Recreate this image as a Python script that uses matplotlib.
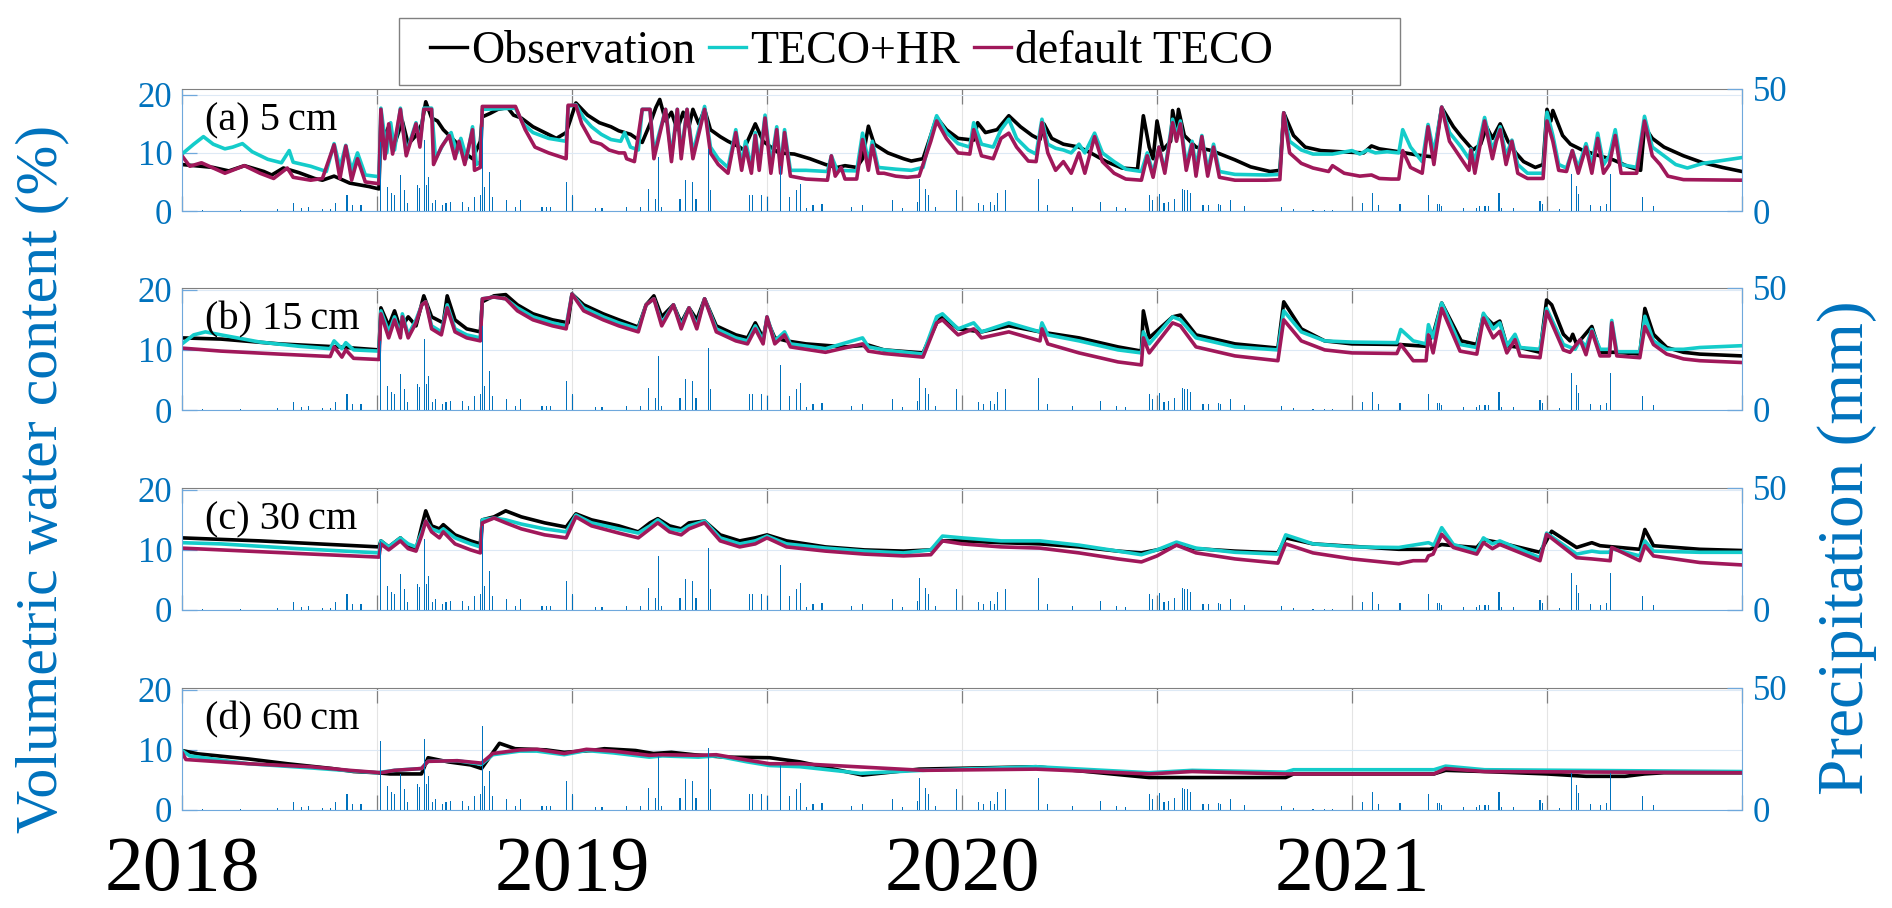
import matplotlib
matplotlib.use('Agg')
import matplotlib.pyplot as plt
import numpy as np
from matplotlib.lines import Line2D
from matplotlib.patches import Rectangle

plt.rcParams['font.family'] = ['Liberation Serif', 'DejaVu Serif']

BLUE = '#0072BD'
C_OBS = 'black'
C_HR = '#14CCCA'
C_DEF = '#A0185A'

# ---- soil water content (decimal year, %) ----
# (a) 5 cm
a_obs = [(2018.00, 8.0), (2018.08, 7.5), (2018.12, 6.9), (2018.16, 7.8), (2018.21, 6.8), (2018.23, 6.2),
         (2018.26, 7.4), (2018.30, 6.6), (2018.34, 5.6), (2018.36, 5.3), (2018.39, 6.0), (2018.43, 4.8),
         (2018.48, 4.2), (2018.505, 3.8), (2018.51, 15.5), (2018.52, 13.0), (2018.53, 14.5), (2018.545, 11.5),
         (2018.565, 15.5), (2018.58, 11.5), (2018.60, 13.0), (2018.615, 15.0), (2018.625, 18.8), (2018.64, 16.0),
         (2018.655, 15.5), (2018.67, 14.0), (2018.70, 12.0), (2018.725, 10.0), (2018.745, 9.0), (2018.765, 12.0),
         (2018.77, 16.2), (2018.79, 16.8), (2018.81, 17.5), (2018.835, 17.8), (2018.85, 16.5), (2018.87, 16.0),
         (2018.90, 14.5), (2018.93, 13.5), (2018.96, 12.5), (2018.985, 13.5), (2018.995, 15.5), (2019.01, 18.6),
         (2019.04, 16.5), (2019.07, 15.2), (2019.10, 14.5), (2019.12, 13.8), (2019.15, 13.2), (2019.18, 11.8),
         (2019.20, 15.0), (2019.215, 17.8), (2019.225, 19.2), (2019.24, 15.5), (2019.255, 17.0), (2019.27, 14.0),
         (2019.285, 17.0), (2019.30, 14.5), (2019.31, 17.5), (2019.325, 15.0), (2019.34, 17.5), (2019.355, 14.0),
         (2019.38, 12.8), (2019.40, 12.0), (2019.43, 11.0), (2019.44, 10.5), (2019.46, 13.5), (2019.47, 15.0),
         (2019.49, 12.0), (2019.53, 10.0), (2019.57, 9.8), (2019.61, 9.0), (2019.65, 8.0), (2019.68, 7.5),
         (2019.70, 7.8), (2019.73, 7.5), (2019.745, 9.0), (2019.76, 14.6), (2019.775, 11.5), (2019.81, 10.0),
         (2019.85, 9.0), (2019.87, 8.6), (2019.90, 9.0), (2019.92, 13.0), (2019.935, 16.1), (2019.96, 14.0),
         (2019.99, 12.5), (2020.03, 12.2), (2020.04, 15.2), (2020.06, 13.5), (2020.09, 14.0), (2020.12, 16.4),
         (2020.15, 14.5), (2020.18, 13.0), (2020.20, 12.3), (2020.21, 15.0), (2020.23, 12.5), (2020.26, 11.5),
         (2020.30, 11.0), (2020.33, 10.0), (2020.37, 8.5), (2020.41, 7.4), (2020.45, 7.2), (2020.465, 16.4),
         (2020.48, 11.0), (2020.49, 9.0), (2020.50, 15.5), (2020.515, 10.5), (2020.535, 12.0), (2020.54, 17.3),
         (2020.55, 14.0), (2020.555, 17.5), (2020.57, 13.0), (2020.60, 11.0), (2020.64, 10.4), (2020.67, 9.6),
         (2020.70, 8.8), (2020.74, 7.6), (2020.79, 6.8), (2020.815, 7.0), (2020.825, 16.9), (2020.85, 13.0),
         (2020.88, 11.0), (2020.92, 10.4), (2020.97, 10.2), (2021.03, 10.0), (2021.05, 11.2), (2021.07, 10.7),
         (2021.12, 10.2), (2021.17, 9.6), (2021.21, 9.3), (2021.23, 17.8), (2021.26, 14.5), (2021.28, 12.8),
         (2021.31, 10.5), (2021.33, 11.5), (2021.345, 14.5), (2021.36, 12.5), (2021.38, 15.0), (2021.40, 12.0),
         (2021.42, 10.0), (2021.44, 8.5), (2021.47, 7.5), (2021.49, 8.0), (2021.50, 17.5), (2021.51, 15.5),
         (2021.515, 17.3), (2021.54, 13.0), (2021.56, 11.5), (2021.59, 10.5), (2021.63, 9.6), (2021.67, 8.8),
         (2021.71, 7.6), (2021.74, 7.0), (2021.75, 14.5), (2021.77, 12.5), (2021.80, 11.0), (2021.85, 9.5),
         (2021.90, 8.3), (2021.95, 7.5), (2022.00, 6.8)]
a_hr = [(2018.00, 9.8), (2018.03, 11.5), (2018.055, 12.8), (2018.08, 11.5), (2018.11, 10.7), (2018.13, 11.0),
        (2018.155, 11.6), (2018.18, 10.2), (2018.22, 8.9), (2018.255, 8.3), (2018.275, 10.4), (2018.285, 8.4),
        (2018.33, 7.7), (2018.37, 6.8), (2018.39, 11.6), (2018.405, 7.5), (2018.42, 11.3), (2018.435, 7.0),
        (2018.45, 10.0), (2018.47, 6.2), (2018.505, 5.9), (2018.51, 17.7), (2018.525, 10.0), (2018.535, 15.2),
        (2018.545, 10.5), (2018.56, 17.7), (2018.575, 10.0), (2018.60, 15.2), (2018.61, 11.5), (2018.62, 17.7),
        (2018.64, 17.7), (2018.65, 9.0), (2018.67, 11.5), (2018.69, 13.5), (2018.705, 10.0), (2018.715, 12.5),
        (2018.73, 9.0), (2018.745, 14.5), (2018.755, 8.0), (2018.765, 8.5), (2018.77, 17.5), (2018.855, 17.7),
        (2018.875, 15.0), (2018.90, 13.5), (2018.94, 12.5), (2018.985, 12.0), (2018.99, 18.0), (2019.01, 18.3),
        (2019.03, 16.0), (2019.05, 14.5), (2019.075, 13.2), (2019.10, 12.3), (2019.125, 12.0), (2019.135, 13.5),
        (2019.15, 11.0), (2019.17, 10.5), (2019.18, 17.5), (2019.20, 17.5), (2019.21, 10.0), (2019.24, 17.5),
        (2019.255, 9.5), (2019.27, 17.5), (2019.28, 10.0), (2019.295, 17.5), (2019.31, 10.0), (2019.34, 18.0),
        (2019.355, 11.0), (2019.375, 9.0), (2019.40, 7.5), (2019.42, 14.0), (2019.435, 8.0), (2019.445, 12.0),
        (2019.46, 7.5), (2019.47, 13.5), (2019.48, 8.0), (2019.495, 16.5), (2019.51, 8.0), (2019.525, 14.5),
        (2019.535, 7.5), (2019.545, 14.0), (2019.56, 7.0), (2019.60, 7.0), (2019.655, 6.8), (2019.665, 9.5),
        (2019.68, 7.0), (2019.73, 6.9), (2019.745, 13.4), (2019.76, 8.5), (2019.77, 12.0), (2019.785, 7.5),
        (2019.83, 7.2), (2019.87, 7.0), (2019.90, 7.5), (2019.92, 13.0), (2019.935, 16.4), (2019.96, 13.5),
        (2019.99, 11.6), (2020.02, 11.0), (2020.03, 15.2), (2020.05, 11.5), (2020.08, 11.0), (2020.10, 14.0),
        (2020.12, 15.8), (2020.14, 12.5), (2020.17, 10.5), (2020.19, 9.8), (2020.205, 15.8), (2020.22, 11.5),
        (2020.24, 10.8), (2020.26, 10.5), (2020.28, 10.0), (2020.30, 11.5), (2020.315, 10.0), (2020.34, 13.4),
        (2020.36, 10.0), (2020.39, 8.5), (2020.42, 7.2), (2020.46, 6.8), (2020.475, 10.0), (2020.49, 6.5),
        (2020.505, 11.0), (2020.52, 7.0), (2020.54, 15.8), (2020.55, 13.0), (2020.56, 15.5), (2020.575, 8.0),
        (2020.59, 12.0), (2020.60, 7.5), (2020.615, 13.0), (2020.63, 7.0), (2020.645, 11.5), (2020.66, 6.8),
        (2020.70, 6.3), (2020.78, 6.2), (2020.815, 6.3), (2020.825, 16.9), (2020.84, 12.0), (2020.87, 10.5),
        (2020.90, 9.8), (2020.95, 9.8), (2021.00, 10.4), (2021.02, 9.8), (2021.04, 10.5), (2021.06, 10.0),
        (2021.09, 10.2), (2021.12, 10.0), (2021.13, 14.0), (2021.15, 11.0), (2021.18, 8.5), (2021.195, 14.9),
        (2021.21, 10.0), (2021.23, 17.9), (2021.25, 13.5), (2021.28, 11.0), (2021.30, 9.0), (2021.305, 10.7),
        (2021.315, 8.5), (2021.34, 16.1), (2021.36, 10.5), (2021.37, 12.5), (2021.38, 14.5), (2021.395, 9.5),
        (2021.41, 12.2), (2021.425, 8.0), (2021.45, 6.5), (2021.49, 6.5), (2021.50, 17.0), (2021.515, 13.0),
        (2021.53, 8.0), (2021.55, 7.4), (2021.565, 10.4), (2021.58, 7.5), (2021.60, 11.6), (2021.615, 8.0),
        (2021.63, 13.4), (2021.645, 8.0), (2021.66, 9.5), (2021.675, 14.0), (2021.69, 8.0), (2021.73, 7.5),
        (2021.75, 16.3), (2021.77, 11.0), (2021.78, 10.5), (2021.80, 9.5), (2021.83, 8.0), (2021.86, 7.4),
        (2021.90, 8.2), (2021.95, 8.7), (2022.00, 9.2)]
a_def = [(2018.00, 9.5), (2018.02, 7.7), (2018.05, 8.3), (2018.09, 7.1), (2018.11, 6.5), (2018.16, 7.8),
         (2018.20, 6.5), (2018.235, 5.6), (2018.27, 7.4), (2018.285, 5.8), (2018.33, 5.3), (2018.36, 5.6),
         (2018.39, 11.4), (2018.405, 5.6), (2018.42, 11.2), (2018.435, 5.3), (2018.45, 9.0), (2018.47, 5.0),
         (2018.505, 4.7), (2018.51, 17.5), (2018.52, 9.0), (2018.53, 15.0), (2018.54, 9.8), (2018.56, 17.5),
         (2018.575, 9.5), (2018.60, 15.0), (2018.61, 11.0), (2018.62, 17.5), (2018.64, 17.5), (2018.645, 8.0),
         (2018.665, 11.0), (2018.685, 13.0), (2018.70, 9.0), (2018.71, 12.0), (2018.725, 8.0), (2018.745, 14.0),
         (2018.75, 7.0), (2018.765, 7.5), (2018.77, 18.0), (2018.855, 18.0), (2018.88, 14.0), (2018.905, 11.0),
         (2018.94, 10.0), (2018.985, 9.0), (2018.99, 18.2), (2019.01, 18.2), (2019.025, 15.0), (2019.05, 12.0),
         (2019.075, 11.5), (2019.095, 10.5), (2019.12, 10.0), (2019.135, 10.0), (2019.14, 9.0), (2019.16, 8.5),
         (2019.18, 17.5), (2019.20, 17.5), (2019.21, 9.0), (2019.24, 17.5), (2019.255, 8.5), (2019.27, 17.5),
         (2019.28, 9.0), (2019.295, 17.5), (2019.31, 9.0), (2019.34, 17.5), (2019.355, 10.0), (2019.375, 8.0),
         (2019.40, 6.5), (2019.42, 13.5), (2019.435, 7.0), (2019.445, 11.0), (2019.46, 6.5), (2019.47, 13.0),
         (2019.48, 7.0), (2019.495, 16.0), (2019.51, 6.5), (2019.525, 14.0), (2019.535, 6.5), (2019.545, 13.5),
         (2019.56, 6.0), (2019.60, 5.5), (2019.655, 5.3), (2019.665, 9.5), (2019.675, 6.0), (2019.69, 7.5),
         (2019.70, 5.5), (2019.73, 5.5), (2019.745, 12.3), (2019.76, 7.0), (2019.77, 11.3), (2019.785, 6.5),
         (2019.80, 6.5), (2019.83, 6.0), (2019.86, 5.8), (2019.89, 6.0), (2019.92, 12.0), (2019.935, 15.5),
         (2019.96, 12.5), (2019.99, 10.0), (2020.02, 9.8), (2020.03, 14.0), (2020.05, 9.5), (2020.08, 9.0),
         (2020.10, 12.5), (2020.12, 13.4), (2020.14, 11.0), (2020.17, 8.6), (2020.19, 8.5), (2020.205, 15.2),
         (2020.22, 10.0), (2020.24, 7.0), (2020.26, 8.5), (2020.28, 6.5), (2020.30, 10.0), (2020.315, 6.5),
         (2020.34, 12.8), (2020.36, 8.5), (2020.39, 6.5), (2020.42, 5.5), (2020.46, 5.3), (2020.475, 9.5),
         (2020.49, 5.8), (2020.505, 11.0), (2020.52, 6.5), (2020.54, 15.2), (2020.55, 12.0), (2020.56, 15.0),
         (2020.575, 7.0), (2020.59, 11.5), (2020.60, 6.0), (2020.615, 12.8), (2020.63, 6.0), (2020.645, 11.0),
         (2020.66, 5.8), (2020.70, 5.3), (2020.78, 5.3), (2020.815, 5.4), (2020.825, 16.9), (2020.84, 10.0),
         (2020.87, 8.2), (2020.90, 7.4), (2020.94, 6.8), (2020.95, 7.8), (2020.98, 6.5), (2021.02, 6.0),
         (2021.05, 6.2), (2021.07, 5.6), (2021.10, 5.5), (2021.12, 5.5), (2021.13, 10.4), (2021.15, 7.5),
         (2021.18, 6.5), (2021.195, 14.5), (2021.21, 8.0), (2021.23, 17.9), (2021.25, 12.0), (2021.28, 9.0),
         (2021.30, 7.0), (2021.305, 10.5), (2021.315, 6.5), (2021.34, 15.5), (2021.36, 9.0), (2021.37, 12.0),
         (2021.38, 14.0), (2021.395, 8.0), (2021.41, 12.0), (2021.425, 6.5), (2021.45, 5.6), (2021.49, 5.6),
         (2021.50, 15.5), (2021.515, 12.0), (2021.53, 7.0), (2021.55, 6.8), (2021.565, 10.4), (2021.58, 6.5),
         (2021.60, 11.0), (2021.615, 6.5), (2021.63, 12.5), (2021.645, 6.5), (2021.66, 8.0), (2021.675, 13.0),
         (2021.69, 6.5), (2021.73, 6.5), (2021.75, 15.5), (2021.77, 9.5), (2021.79, 8.0), (2021.81, 6.0),
         (2021.85, 5.4), (2022.00, 5.3)]

# (b) 15 cm
b_obs = [(2018.00, 12.0), (2018.10, 11.8), (2018.25, 11.0), (2018.40, 10.5), (2018.505, 10.0), (2018.51, 17.0),
         (2018.53, 14.0), (2018.545, 16.5), (2018.56, 13.5), (2018.58, 15.5), (2018.60, 14.0), (2018.62, 19.0),
         (2018.64, 15.5), (2018.67, 14.5), (2018.68, 19.0), (2018.70, 15.0), (2018.73, 13.5), (2018.765, 13.0),
         (2018.77, 18.0), (2018.80, 19.0), (2018.83, 19.2), (2018.86, 17.5), (2018.90, 16.0), (2018.95, 15.0),
         (2018.99, 14.5), (2019.00, 19.3), (2019.03, 17.5), (2019.08, 16.0), (2019.12, 15.0), (2019.17, 13.8),
         (2019.19, 17.5), (2019.21, 19.0), (2019.23, 15.5), (2019.26, 17.5), (2019.28, 14.5), (2019.30, 17.0),
         (2019.32, 15.0), (2019.34, 18.5), (2019.37, 14.0), (2019.42, 12.5), (2019.45, 12.0), (2019.47, 14.5),
         (2019.49, 12.0), (2019.50, 15.0), (2019.52, 12.0), (2019.55, 11.5), (2019.60, 11.0), (2019.70, 10.5),
         (2019.76, 10.8), (2019.80, 10.0), (2019.90, 9.5), (2019.935, 14.5), (2019.95, 15.5), (2019.99, 13.5),
         (2020.05, 13.0), (2020.12, 14.0), (2020.20, 13.0), (2020.30, 12.0), (2020.40, 10.5), (2020.46, 9.8),
         (2020.465, 16.5), (2020.48, 12.0), (2020.54, 15.5), (2020.56, 15.8), (2020.60, 12.5), (2020.70, 11.0),
         (2020.81, 10.3), (2020.825, 18.0), (2020.87, 13.5), (2020.93, 11.5), (2021.00, 11.0), (2021.12, 10.9),
         (2021.19, 10.6), (2021.21, 13.0), (2021.23, 17.8), (2021.28, 11.5), (2021.32, 10.9), (2021.337, 15.8),
         (2021.362, 14.2), (2021.379, 14.8), (2021.397, 10.7), (2021.431, 10.4), (2021.482, 9.6), (2021.499, 18.3),
         (2021.512, 17.5), (2021.542, 12.6), (2021.559, 11.5), (2021.566, 12.6), (2021.576, 10.9), (2021.615, 13.9),
         (2021.636, 9.6), (2021.679, 9.6), (2021.738, 9.3), (2021.751, 16.9), (2021.773, 12.6), (2021.807, 10.4),
         (2021.85, 9.6), (2021.892, 9.3), (2022.00, 9.0)]
b_hr = [(2018.00, 11.0), (2018.03, 12.5), (2018.06, 13.0), (2018.10, 12.5), (2018.20, 11.3), (2018.30, 10.6),
        (2018.38, 10.2), (2018.39, 11.5), (2018.41, 10.2), (2018.42, 11.2), (2018.44, 10.0), (2018.505, 9.8),
        (2018.51, 16.5), (2018.53, 13.0), (2018.545, 15.5), (2018.56, 12.5), (2018.565, 16.0), (2018.58, 12.5),
        (2018.60, 15.0), (2018.615, 17.5), (2018.625, 18.0), (2018.64, 14.0), (2018.665, 13.0), (2018.68, 17.5),
        (2018.70, 13.5), (2018.73, 12.5), (2018.765, 12.0), (2018.77, 18.5), (2018.80, 18.8), (2018.83, 18.5),
        (2018.86, 17.0), (2018.90, 15.5), (2018.95, 14.5), (2018.985, 14.0), (2019.00, 19.3), (2019.03, 17.0),
        (2019.08, 15.5), (2019.12, 14.5), (2019.17, 13.5), (2019.19, 17.5), (2019.21, 18.5), (2019.23, 14.5),
        (2019.26, 17.5), (2019.28, 14.0), (2019.30, 17.0), (2019.32, 14.0), (2019.34, 18.5), (2019.37, 13.5),
        (2019.42, 12.0), (2019.45, 11.5), (2019.47, 14.0), (2019.49, 11.5), (2019.50, 15.5), (2019.52, 11.5),
        (2019.545, 13.0), (2019.56, 11.0), (2019.65, 10.2), (2019.745, 12.0), (2019.76, 10.5), (2019.80, 10.0),
        (2019.90, 9.3), (2019.935, 15.5), (2019.95, 16.0), (2019.99, 13.5), (2020.03, 14.5), (2020.05, 13.0),
        (2020.12, 14.5), (2020.20, 13.0), (2020.205, 14.5), (2020.22, 12.5), (2020.30, 11.5), (2020.40, 10.0),
        (2020.46, 9.5), (2020.465, 13.0), (2020.48, 11.0), (2020.54, 15.5), (2020.56, 15.0), (2020.60, 12.0),
        (2020.70, 10.5), (2020.81, 10.0), (2020.825, 16.5), (2020.87, 13.0), (2020.93, 11.5), (2021.00, 11.3),
        (2021.115, 11.2), (2021.125, 13.4), (2021.157, 11.5), (2021.19, 11.0), (2021.196, 14.2), (2021.208, 12.0),
        (2021.23, 17.8), (2021.277, 10.9), (2021.32, 10.4), (2021.337, 16.1), (2021.362, 13.5), (2021.379, 14.5),
        (2021.397, 10.7), (2021.418, 12.6), (2021.431, 10.4), (2021.482, 10.1), (2021.499, 16.9), (2021.542, 10.9),
        (2021.572, 10.1), (2021.585, 11.7), (2021.60, 10.5), (2021.615, 13.4), (2021.636, 10.1), (2021.66, 10.1),
        (2021.666, 14.9), (2021.679, 9.7), (2021.738, 9.7), (2021.751, 15.6), (2021.773, 11.5), (2021.807, 10.1),
        (2021.85, 10.1), (2021.892, 10.4), (2022.00, 10.7)]
b_def = [(2018.00, 10.3), (2018.10, 9.8), (2018.25, 9.3), (2018.38, 8.9), (2018.39, 10.5), (2018.41, 8.8),
         (2018.42, 10.0), (2018.44, 8.6), (2018.505, 8.4), (2018.51, 16.0), (2018.53, 12.0), (2018.545, 15.0),
         (2018.56, 12.0), (2018.565, 15.5), (2018.58, 12.0), (2018.60, 14.5), (2018.615, 17.5), (2018.625, 18.0),
         (2018.64, 13.5), (2018.665, 12.5), (2018.68, 17.0), (2018.70, 13.0), (2018.73, 12.0), (2018.765, 11.5),
         (2018.77, 18.5), (2018.80, 18.8), (2018.83, 18.5), (2018.86, 16.5), (2018.90, 15.0), (2018.95, 14.0),
         (2018.985, 13.5), (2019.00, 19.3), (2019.03, 16.5), (2019.08, 15.0), (2019.12, 14.0), (2019.17, 13.0),
         (2019.19, 17.5), (2019.21, 18.5), (2019.23, 14.0), (2019.26, 17.5), (2019.28, 13.5), (2019.30, 17.0),
         (2019.32, 13.5), (2019.34, 18.5), (2019.37, 13.0), (2019.42, 11.5), (2019.45, 11.0), (2019.47, 13.5),
         (2019.49, 11.0), (2019.50, 15.5), (2019.52, 11.0), (2019.545, 12.5), (2019.56, 10.5), (2019.65, 9.6),
         (2019.745, 11.0), (2019.76, 9.8), (2019.80, 9.4), (2019.90, 8.8), (2019.935, 14.5), (2019.95, 15.0),
         (2019.99, 12.5), (2020.03, 13.5), (2020.05, 12.0), (2020.12, 13.0), (2020.20, 11.5), (2020.205, 13.5),
         (2020.22, 11.0), (2020.30, 9.5), (2020.40, 8.0), (2020.46, 7.5), (2020.465, 12.0), (2020.48, 9.5),
         (2020.54, 14.5), (2020.56, 14.0), (2020.60, 10.5), (2020.70, 9.0), (2020.81, 8.2), (2020.825, 15.0),
         (2020.87, 11.5), (2020.93, 10.0), (2021.00, 9.5), (2021.115, 9.4), (2021.125, 10.9), (2021.157, 8.2),
         (2021.19, 8.2), (2021.196, 12.5), (2021.208, 9.5), (2021.23, 16.9), (2021.277, 9.8), (2021.32, 9.3),
         (2021.337, 15.3), (2021.362, 12.0), (2021.379, 13.1), (2021.397, 9.5), (2021.418, 11.7), (2021.431, 9.0),
         (2021.482, 8.7), (2021.499, 16.4), (2021.542, 10.0), (2021.559, 9.6), (2021.585, 11.7), (2021.60, 9.2),
         (2021.615, 13.1), (2021.636, 9.0), (2021.66, 9.0), (2021.666, 14.5), (2021.679, 9.0), (2021.738, 8.7),
         (2021.751, 13.9), (2021.773, 10.9), (2021.807, 9.3), (2021.85, 8.5), (2021.892, 8.2), (2022.00, 7.9)]

# (c) 30 cm
c_obs = [(2018.00, 12.0), (2018.20, 11.5), (2018.35, 11.0), (2018.505, 10.5), (2018.51, 11.5), (2018.53, 10.5),
         (2018.56, 12.0), (2018.58, 10.5), (2018.60, 10.0), (2018.615, 14.0), (2018.625, 16.5), (2018.64, 14.0),
         (2018.66, 13.5), (2018.67, 14.2), (2018.70, 12.5), (2018.74, 11.5), (2018.765, 11.0), (2018.77, 15.0),
         (2018.80, 15.5), (2018.83, 16.5), (2018.87, 15.5), (2018.93, 14.5), (2018.985, 13.8), (2019.01, 16.0),
         (2019.05, 15.0), (2019.12, 14.0), (2019.17, 13.0), (2019.20, 14.5), (2019.22, 15.2), (2019.25, 14.0),
         (2019.28, 13.5), (2019.30, 14.5), (2019.34, 14.8), (2019.38, 12.5), (2019.43, 11.5), (2019.47, 12.0),
         (2019.50, 12.5), (2019.55, 11.5), (2019.65, 10.5), (2019.75, 10.0), (2019.85, 9.8), (2019.92, 10.0),
         (2019.95, 11.5), (2020.00, 11.5), (2020.10, 11.2), (2020.20, 11.0), (2020.30, 10.5), (2020.40, 9.8),
         (2020.46, 9.5), (2020.50, 10.0), (2020.55, 10.8), (2020.60, 10.2), (2020.70, 9.8), (2020.81, 9.5),
         (2020.83, 12.0), (2020.90, 11.0), (2021.00, 10.6), (2021.12, 10.1), (2021.20, 10.1), (2021.23, 10.9),
         (2021.26, 10.7), (2021.32, 10.4), (2021.337, 11.7), (2021.379, 11.2), (2021.482, 9.6), (2021.512, 13.1),
         (2021.576, 10.4), (2021.615, 11.2), (2021.636, 10.7), (2021.738, 10.1), (2021.751, 13.4), (2021.773, 10.7),
         (2021.892, 10.1), (2022.00, 9.9)]
c_hr = [(2018.00, 11.2), (2018.10, 11.0), (2018.30, 10.2), (2018.505, 9.5), (2018.51, 11.5), (2018.53, 10.5),
        (2018.56, 12.0), (2018.58, 11.0), (2018.60, 10.5), (2018.615, 13.0), (2018.625, 14.8), (2018.64, 13.5),
        (2018.66, 13.0), (2018.67, 13.5), (2018.70, 12.0), (2018.74, 11.0), (2018.765, 10.5), (2018.77, 15.0),
        (2018.80, 15.3), (2018.83, 15.0), (2018.87, 14.3), (2018.93, 13.5), (2018.985, 13.0), (2019.01, 15.8),
        (2019.05, 14.5), (2019.12, 13.5), (2019.17, 12.8), (2019.20, 14.0), (2019.22, 15.0), (2019.25, 13.5),
        (2019.28, 13.2), (2019.30, 14.0), (2019.34, 14.8), (2019.38, 12.0), (2019.43, 11.0), (2019.47, 11.5),
        (2019.50, 12.3), (2019.55, 11.0), (2019.65, 10.3), (2019.75, 9.8), (2019.85, 9.5), (2019.92, 10.0),
        (2019.95, 12.3), (2020.00, 12.0), (2020.10, 11.5), (2020.20, 11.5), (2020.30, 10.8), (2020.40, 9.8),
        (2020.46, 9.2), (2020.50, 10.0), (2020.55, 11.3), (2020.60, 10.3), (2020.70, 9.6), (2020.81, 9.3),
        (2020.83, 12.5), (2020.90, 11.0), (2021.00, 10.5), (2021.12, 10.4), (2021.196, 11.2), (2021.21, 10.8),
        (2021.23, 13.7), (2021.26, 10.9), (2021.32, 9.8), (2021.337, 12.0), (2021.36, 11.0), (2021.379, 11.5),
        (2021.482, 8.7), (2021.499, 12.8), (2021.576, 9.3), (2021.615, 9.8), (2021.636, 9.6), (2021.66, 9.6),
        (2021.666, 10.2), (2021.738, 9.0), (2021.751, 11.5), (2021.773, 9.8), (2021.892, 9.6), (2022.00, 9.6)]
c_def = [(2018.00, 10.3), (2018.10, 10.0), (2018.30, 9.4), (2018.505, 8.8), (2018.51, 11.0), (2018.53, 10.0),
         (2018.56, 11.5), (2018.58, 10.2), (2018.60, 9.8), (2018.615, 12.5), (2018.625, 14.8), (2018.64, 13.0),
         (2018.66, 12.0), (2018.67, 13.0), (2018.70, 11.0), (2018.74, 10.0), (2018.765, 9.5), (2018.77, 14.5),
         (2018.80, 15.3), (2018.83, 14.5), (2018.87, 13.5), (2018.93, 12.5), (2018.985, 12.0), (2019.01, 15.5),
         (2019.05, 14.0), (2019.12, 12.8), (2019.17, 12.0), (2019.20, 13.5), (2019.22, 14.5), (2019.25, 13.0),
         (2019.28, 12.5), (2019.30, 13.5), (2019.34, 14.5), (2019.38, 11.5), (2019.43, 10.5), (2019.47, 11.0),
         (2019.50, 12.0), (2019.55, 10.5), (2019.65, 9.8), (2019.75, 9.3), (2019.85, 9.0), (2019.92, 9.2),
         (2019.95, 11.5), (2020.00, 11.0), (2020.10, 10.5), (2020.20, 10.3), (2020.30, 9.5), (2020.40, 8.5),
         (2020.46, 8.0), (2020.50, 9.0), (2020.55, 10.8), (2020.60, 9.5), (2020.70, 8.5), (2020.81, 7.8),
         (2020.83, 11.0), (2020.90, 9.5), (2021.00, 8.5), (2021.12, 7.7), (2021.157, 8.2), (2021.19, 8.2),
         (2021.196, 9.0), (2021.208, 9.3), (2021.23, 12.6), (2021.26, 10.4), (2021.32, 9.3), (2021.337, 11.2),
         (2021.36, 10.2), (2021.379, 10.9), (2021.482, 8.2), (2021.499, 12.6), (2021.576, 8.7), (2021.615, 8.5),
         (2021.662, 8.2), (2021.666, 10.4), (2021.738, 8.2), (2021.751, 10.7), (2021.773, 9.0), (2021.892, 7.9),
         (2022.00, 7.5)]

# (d) 60 cm
d_obs = [(2018.00, 9.9), (2018.04, 9.35), (2018.17, 8.5), (2018.27, 7.7), (2018.385, 6.9), (2018.44, 6.4),
         (2018.50, 6.2), (2018.533, 6.0), (2018.614, 6.0), (2018.631, 8.7), (2018.683, 8.0), (2018.74, 7.5),
         (2018.768, 6.9), (2018.814, 11.1), (2018.854, 10.2), (2018.934, 10.0), (2018.98, 9.6), (2019.049, 9.9),
         (2019.083, 10.2), (2019.163, 9.9), (2019.209, 9.4), (2019.255, 9.6), (2019.312, 9.2), (2019.392, 8.8),
         (2019.507, 8.7), (2019.585, 8.0), (2019.745, 5.8), (2019.89, 6.8), (2020.19, 7.2), (2020.48, 5.4),
         (2020.59, 5.4), (2020.83, 5.4), (2020.85, 6.0), (2021.21, 6.0), (2021.24, 6.6), (2021.34, 6.4),
         (2021.50, 6.0), (2021.60, 5.6), (2021.70, 5.6), (2021.75, 6.0), (2021.80, 6.2), (2022.00, 6.2)]
d_hr = [(2018.00, 9.9), (2018.02, 9.0), (2018.17, 7.7), (2018.33, 7.0), (2018.50, 6.2), (2018.545, 6.6),
        (2018.614, 6.9), (2018.631, 8.1), (2018.706, 8.2), (2018.768, 7.6), (2018.797, 9.2), (2018.866, 9.8),
        (2018.91, 9.8), (2018.98, 9.2), (2019.037, 9.9), (2019.106, 9.5), (2019.198, 8.8), (2019.232, 9.0),
        (2019.324, 8.8), (2019.37, 9.0), (2019.45, 8.0), (2019.507, 7.4), (2019.585, 7.2), (2019.74, 6.1),
        (2019.90, 6.6), (2020.19, 7.2), (2020.48, 6.2), (2020.59, 6.6), (2020.83, 6.3), (2020.85, 6.7),
        (2021.21, 6.7), (2021.24, 7.3), (2021.34, 6.7), (2022.00, 6.4)]
d_def = [(2018.00, 9.6), (2018.01, 8.4), (2018.17, 7.7), (2018.33, 7.2), (2018.43, 6.6), (2018.51, 6.2),
         (2018.545, 6.6), (2018.614, 6.9), (2018.631, 8.1), (2018.706, 8.2), (2018.768, 7.8), (2018.797, 9.4),
         (2018.866, 10.0), (2018.91, 10.1), (2018.98, 9.4), (2019.037, 10.1), (2019.106, 9.8), (2019.198, 9.1),
         (2019.232, 9.2), (2019.324, 9.1), (2019.37, 9.2), (2019.45, 8.3), (2019.507, 7.7), (2019.585, 7.7),
         (2019.90, 6.6), (2020.19, 6.8), (2020.48, 6.0), (2020.59, 6.4), (2020.83, 6.0), (2020.85, 6.0),
         (2021.21, 6.0), (2021.24, 6.9), (2021.34, 6.4), (2022.00, 6.2)]

# ---- daily precipitation (decimal year, mm) ----
precip = [(2018.053, 0.3), (2018.15, 0.3), (2018.245, 0.7), (2018.285, 3.1), (2018.307, 1.1), (2018.325, 1.5),
          (2018.36, 0.7), (2018.38, 0.7), (2018.393, 3.1), (2018.423, 6.5), (2018.436, 2.4), (2018.459, 2.4),
          (2018.509, 28.2), (2018.526, 9.9), (2018.537, 7.2), (2018.545, 6.5), (2018.560, 14.6), (2018.570, 8.5),
          (2018.579, 3.1), (2018.605, 10.6), (2018.609, 9.6), (2018.622, 28.9), (2018.628, 10.6), (2018.633, 14.0),
          (2018.643, 3.1), (2018.651, 4.5), (2018.669, 2.4), (2018.677, 3.1), (2018.688, 3.8), (2018.719, 3.8),
          (2018.734, 1.8), (2018.751, 5.8), (2018.765, 6.5), (2018.771, 34.3), (2018.776, 9.9), (2018.788, 16.0),
          (2018.795, 5.8), (2018.833, 4.5), (2018.854, 1.8), (2018.868, 4.5), (2018.923, 1.8), (2018.935, 1.5),
          (2018.946, 1.8), (2018.986, 11.9), (2019.001, 6.5), (2019.06, 1.1), (2019.077, 1.1), (2019.14, 1.5),
          (2019.175, 1.8), (2019.195, 9.2), (2019.213, 5.1), (2019.221, 22.1), (2019.23, 1.8), (2019.277, 5.1),
          (2019.292, 12.6), (2019.308, 11.9), (2019.318, 5.1), (2019.349, 25.5), (2019.356, 8.5), (2019.455, 6.5),
          (2019.463, 6.5), (2019.487, 6.5), (2019.501, 5.8), (2019.535, 18.3), (2019.558, 5.8), (2019.575, 8.5),
          (2019.585, 11.2), (2019.602, 1.1), (2019.618, 2.4), (2019.641, 2.8), (2019.716, 1.8), (2019.745, 2.4),
          (2019.822, 4.5), (2019.848, 1.1), (2019.885, 3.8), (2019.89, 13.3), (2019.907, 9.2), (2019.913, 6.5),
          (2019.932, 1.8), (2019.985, 8.5), (2020.043, 3.1), (2020.054, 2.4), (2020.074, 3.8), (2020.083, 2.4),
          (2020.092, 7.2), (2020.111, 8.5), (2020.197, 13.3), (2020.22, 2.4), (2020.283, 1.8), (2020.355, 3.8),
          (2020.397, 1.8), (2020.42, 1.1), (2020.48, 6.5), (2020.489, 4.5), (2020.506, 6.9), (2020.518, 3.1),
          (2020.529, 3.8), (2020.546, 5.1), (2020.566, 9.2), (2020.571, 8.8), (2020.578, 8.5), (2020.586, 7.2),
          (2020.618, 2.4), (2020.632, 2.4), (2020.658, 2.8), (2020.664, 2.4), (2020.689, 4.5), (2020.724, 2.0),
          (2020.82, 1.8), (2020.85, 0.7), (2020.90, 0.5), (2020.93, 0.5), (2020.95, 0.5), (2021.027, 3.1),
          (2021.053, 7.2), (2021.069, 2.4), (2021.123, 2.7), (2021.196, 6.5), (2021.219, 2.7), (2021.224, 2.7),
          (2021.23, 2.0), (2021.286, 1.4), (2021.32, 1.4), (2021.328, 2.0), (2021.341, 2.0), (2021.35, 2.0),
          (2021.377, 7.5), (2021.383, 1.4), (2021.413, 1.4), (2021.482, 4.1), (2021.488, 2.7), (2021.533, 0.7),
          (2021.563, 15.0), (2021.576, 10.2), (2021.58, 6.8), (2021.612, 2.5), (2021.636, 2.0), (2021.653, 2.7),
          (2021.664, 15.0), (2021.744, 5.7), (2021.773, 2.0)]

panel_labels = ['(a) 5\u2009cm', '(b) 15\u2009cm', '(c) 30\u2009cm', '(d) 60\u2009cm']
panel_data = [(a_obs, a_hr, a_def), (b_obs, b_hr, b_def), (c_obs, c_hr, c_def), (d_obs, d_hr, d_def)]
swc_top = [21.0, 20.3, 20.3, 20.3]
year_labels = ['2018', '2019', '2020', '2021']

W, H = 1892, 908
fig = plt.figure(figsize=(W / 100, H / 100), dpi=100)

ax_left, ax_w, ax_h = 182 / W, 1560 / W, 122 / H
tops = [89, 288, 488, 688]

pt, pv = zip(*precip)
SPINE_BLUE = '#6FA8DC'
GRAY = '#808080'
xt = np.arange(2018, 2022.01, 0.5)

for i, (lab, series) in enumerate(zip(panel_labels, panel_data)):
    ax = fig.add_axes([ax_left, 1 - (tops[i] + 122) / H, ax_w, ax_h])
    ax2 = ax.twinx()
    for s, col in zip(series, [C_OBS, C_HR, C_DEF]):
        t, v = zip(*s)
        ax.plot(t, v, color=col, lw=2.6, solid_joinstyle='round')
    ax2.bar(pt, pv, width=1 / 365, color=BLUE, linewidth=0)

    ax.set_xlim(2018, 2022)
    ax.set_ylim(0, swc_top[i])
    ax2.set_ylim(0, 50)
    ax.set_xticks(xt)
    if i == 3:
        ax.set_xticklabels([year_labels[int(x - 2018)] if x % 1 == 0 and x < 2022 else '' for x in xt])
    else:
        ax.set_xticklabels([])
    ax.set_yticks([0, 10, 20])
    ax2.set_yticks([0, 50])

    ax.grid(axis='x', color='#e4e4e4', lw=0.8)
    ax.grid(axis='y', color='#dde9f5', lw=0.8)
    ax.set_axisbelow(True)

    ax.tick_params(axis='x', direction='in', length=10.8, width=0.9, color=GRAY, top=True,
                   labelsize=56, pad=18)
    ax.tick_params(axis='y', direction='in', length=10.8, width=0.9, color=SPINE_BLUE,
                   labelcolor=BLUE, labelsize=25, pad=7)
    ax2.tick_params(axis='y', direction='in', length=10.8, width=0.9, color=SPINE_BLUE,
                    labelcolor=BLUE, labelsize=25, pad=8)

    ax.spines['top'].set_color(GRAY)
    ax.spines['left'].set_color(SPINE_BLUE)
    ax.spines['bottom'].set_color(SPINE_BLUE)
    ax.spines['right'].set_visible(False)
    for sp in ['top', 'left', 'bottom']:
        ax2.spines[sp].set_visible(False)
    ax2.spines['right'].set_color(SPINE_BLUE)

    ax.text(0.015, 0.74, lab, transform=ax.transAxes, fontsize=29, va='center', ha='left')

# axis titles
fig.text(42 / W, 1 - 479 / H, 'Volumetric water content (%)', rotation=90, color=BLUE,
         fontsize=43, ha='center', va='center')
fig.text(1847 / W, 1 - 548 / H, 'Precipitation (mm)', rotation=90, color=BLUE,
         fontsize=47, ha='center', va='center')

# legend
fig.add_artist(Rectangle((399 / W, 1 - 85 / H), (1400 - 399) / W, 67 / H, transform=fig.transFigure,
                         fill=False, edgecolor=GRAY, lw=1.0))
handles = [Line2D([], [], color=c, lw=2.4) for c in [C_OBS, C_HR, C_DEF]]
fig.legend(handles, ['Observation', 'TECO+HR', 'default TECO'], loc='center left',
           bbox_to_anchor=(430 / W, 1 - 52 / H), ncol=3, frameon=False, fontsize=33,
           handlelength=0.8, handletextpad=0.1, columnspacing=0.3, borderpad=0, borderaxespad=0)

fig.savefig('out.png', dpi=100)
